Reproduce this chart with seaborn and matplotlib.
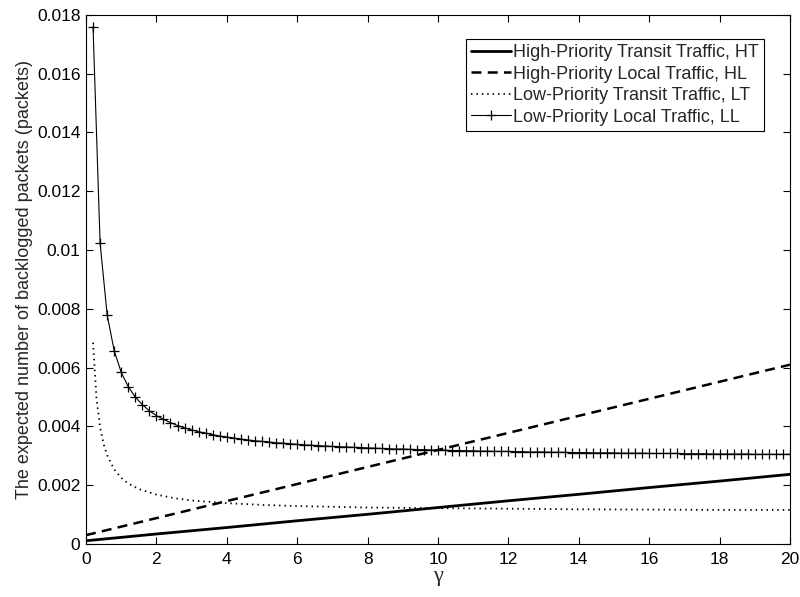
import numpy as np
import pandas as pd
import seaborn as sns
import matplotlib.pyplot as plt
from matplotlib.ticker import FixedLocator, FuncFormatter

# high priority series (nearly linear in gamma)
gamma_hi = [0, 2, 4, 6, 8, 10, 12, 14, 16, 18, 20]
ht = [0.00011, 0.00034, 0.00056, 0.00079, 0.00101, 0.00124,
      0.00147, 0.00169, 0.00192, 0.00214, 0.00237]
hl = [0.0003, 0.00088, 0.00146, 0.00204, 0.00262, 0.0032,
      0.00378, 0.00436, 0.00494, 0.00552, 0.0061]

# low priority transit
gamma_lt = [0.2, 0.3, 0.4, 0.5, 0.6, 0.8, 1.0, 1.2, 1.5, 2.0, 2.5, 3.0,
            4.0, 5.0, 6.0, 8.0, 10, 12, 14, 16, 18, 20]
lt = [0.00685, 0.00493, 0.00398, 0.0034, 0.00302, 0.00254, 0.00225,
      0.00206, 0.00187, 0.00168, 0.00156, 0.00148, 0.00139, 0.00133,
      0.00129, 0.00124, 0.00122, 0.0012, 0.00118, 0.00117, 0.00116, 0.00116]

# low priority local, one marker every 0.2
gamma_ll = [round(0.2 * k, 1) for k in range(1, 101)]
ll = [0.0176, 0.01025, 0.0078, 0.00658, 0.00584, 0.00535, 0.0050, 0.00474,
      0.00453, 0.00437, 0.00424, 0.00413, 0.00403, 0.00395, 0.00388, 0.00382,
      0.00377, 0.00372, 0.00367, 0.00364, 0.0036, 0.00357, 0.00354, 0.00351,
      0.00349, 0.00347, 0.00344, 0.00343, 0.00341, 0.00339, 0.00337, 0.00336,
      0.00335, 0.00333, 0.00332, 0.00331, 0.0033, 0.00329, 0.00328, 0.00327,
      0.00326, 0.00325, 0.00324, 0.00323, 0.00323, 0.00322, 0.00321, 0.00321,
      0.0032, 0.00319, 0.00319, 0.00318, 0.00318, 0.00317, 0.00317, 0.00316,
      0.00316, 0.00315, 0.00315, 0.00315, 0.00314, 0.00314, 0.00313, 0.00313,
      0.00313, 0.00312, 0.00312, 0.00312, 0.00311, 0.00311, 0.00311, 0.0031,
      0.0031, 0.0031, 0.0031, 0.00309, 0.00309, 0.00309, 0.00309, 0.00308,
      0.00308, 0.00308, 0.00308, 0.00308, 0.00307, 0.00307, 0.00307, 0.00307,
      0.00306, 0.00306, 0.00306, 0.00306, 0.00306, 0.00306, 0.00305, 0.00305,
      0.00305, 0.00305, 0.00305, 0.00305]

x_ticks = [0, 2, 4, 6, 8, 10, 12, 14, 16, 18, 20]
y_ticks = [0, 0.002, 0.004, 0.006, 0.008, 0.01, 0.012, 0.014, 0.016, 0.018]

sns.set_style("ticks")
plt.rcParams['font.family'] = ['Liberation Sans', 'DejaVu Sans']

fig = plt.figure(figsize=(8, 5.97), dpi=100)
ax = fig.add_axes([0.1075, 0.0888, 0.88, 0.8862])

sns.lineplot(x=gamma_hi, y=ht, ax=ax, color='k', lw=2.0,
             label="High-Priority Transit Traffic, HT")
sns.lineplot(x=gamma_hi, y=hl, ax=ax, color='k', lw=1.8, linestyle=(0, (4, 2.5)),
             label="High-Priority Local Traffic, HL")
sns.lineplot(x=gamma_lt, y=lt, ax=ax, color='k', lw=1.3, linestyle=(0, (0.8, 2.2)),
             label="Low-Priority Transit Traffic, LT")
sns.lineplot(x=gamma_ll, y=ll, ax=ax, color='k', lw=0.8, marker='+', markersize=7.5,
             markeredgewidth=0.9, markeredgecolor='k',
             label="Low-Priority Local Traffic, LL")

ax.set_xlim(0, 20)
ax.set_ylim(0, 0.018)
ax.xaxis.set_major_locator(FixedLocator(x_ticks))
ax.yaxis.set_major_locator(FixedLocator(y_ticks))
ax.yaxis.set_major_formatter(FuncFormatter(lambda v, p: f"{v:g}"))
ax.tick_params(direction='in', top=True, right=True, length=5, width=0.8,
               labelsize=12.5, colors='k')
ax.tick_params(axis='y', pad=4)
ax.tick_params(axis='x', pad=6)
for s in ax.spines.values():
    s.set_visible(True)
    s.set_linewidth(0.8)
    s.set_color('k')

ax.set_xlabel("γ", fontsize=16, family=['Liberation Serif', 'DejaVu Serif'], labelpad=0)
ax.set_ylabel("The expected number of backlogged packets (packets)", fontsize=13, labelpad=3)

leg = ax.legend(loc='upper right', bbox_to_anchor=(0.963, 0.955), fontsize=13,
                frameon=True, fancybox=False, edgecolor='k', framealpha=1,
                handlelength=2.2, handletextpad=0.1, borderpad=0.3, labelspacing=0.25,
                borderaxespad=0)
leg.get_frame().set_linewidth(0.8)

fig.savefig("out.png", dpi=100)
